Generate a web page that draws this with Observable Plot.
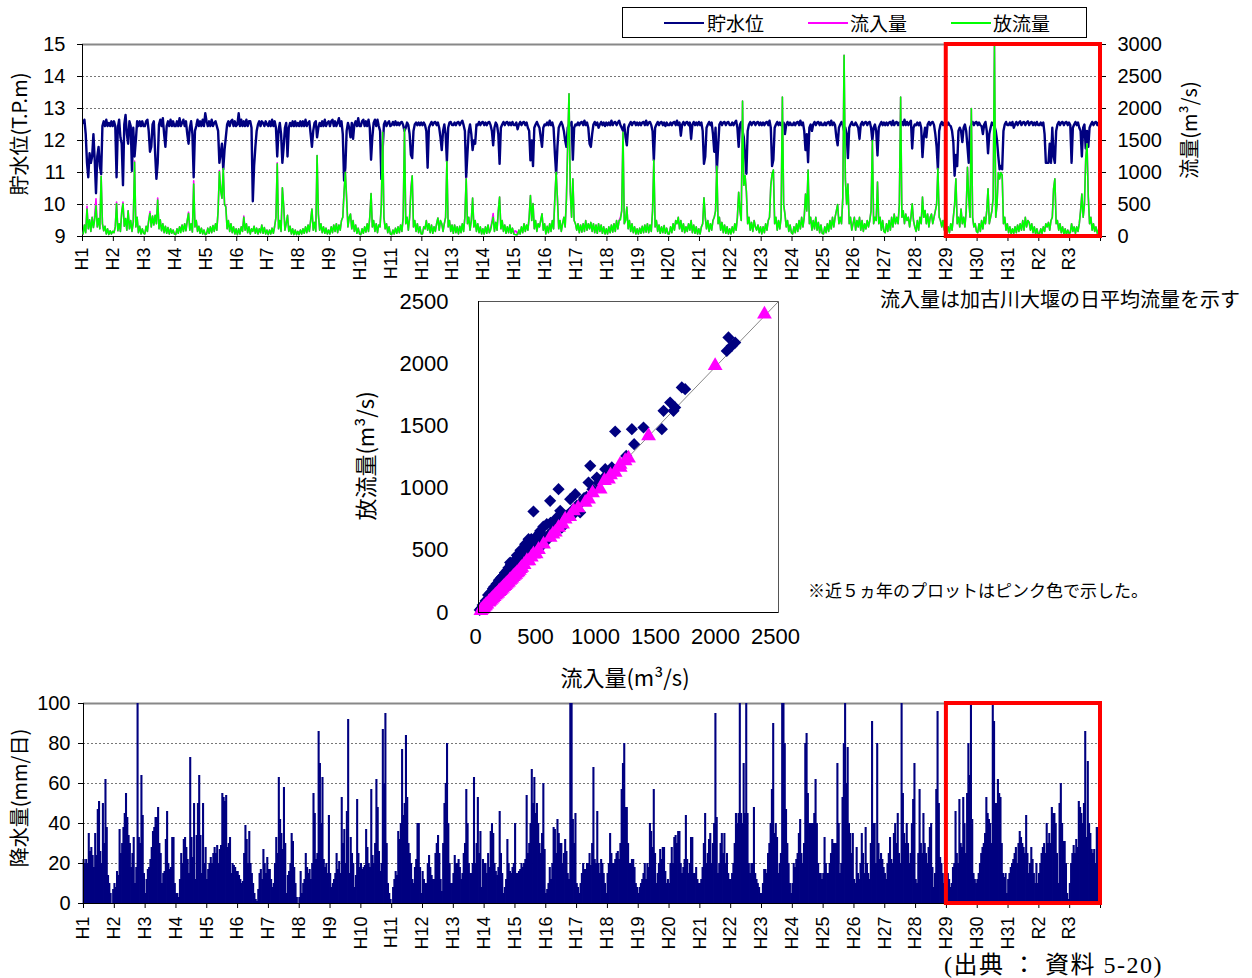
<!DOCTYPE html>
<html lang="ja">
<head>
<meta charset="utf-8">
<script src="https://cdn.jsdelivr.net/npm/d3@7"></script>
<script src="https://cdn.jsdelivr.net/npm/@observablehq/plot@0.6"></script>
<style>
  body { margin: 0; background: #fff; }
  #page { position: relative; width: 1252px; height: 978px; overflow: hidden; background: #fff;
          font-family: "Liberation Sans", "Noto Sans CJK JP", sans-serif; color: #000; }
  .abs { position: absolute; }
  .txt { position: absolute; white-space: nowrap; font-family: "Noto Sans CJK JP", "Liberation Sans", sans-serif; }
  .rot { transform: translate(-50%, -50%) rotate(-90deg); }
  .legend { position: absolute; left: 622px; top: 7px; width: 465px; height: 31px; border: 1px solid #000; box-sizing: border-box;
            font-family: "Noto Sans CJK JP", sans-serif; font-size: 19px; }
  .legend .item { position: absolute; top: 2px; line-height: 26px; }
  .legend .swatch { position: absolute; top: 14px; width: 40px; height: 2px; }
</style>
</head>
<body>
<div id="page">
  <div id="levelChart" class="abs" style="left:0;top:0"></div>
  <div id="flowChart" class="abs" style="left:0;top:0"></div>
  <div id="scatterChart" class="abs" style="left:340px;top:280px"></div>
  <div id="rainChart" class="abs" style="left:0;top:690px"></div>

  <div class="legend">
    <span class="swatch" style="left:41px;background:#000080"></span><span class="item" style="left:84px">貯水位</span>
    <span class="swatch" style="left:185px;background:#FF00FF"></span><span class="item" style="left:227px">流入量</span>
    <span class="swatch" style="left:328px;background:#00FF00"></span><span class="item" style="left:370px">放流量</span>
  </div>

  <div class="txt rot" style="left:18px;top:134px;font-size:20px">貯水位(T.P.m)</div>
  <div class="txt rot" style="left:1188px;top:130px;font-size:20px">流量(m³/s)</div>
  <div class="txt" style="left:880px;top:286px;font-size:20px;line-height:26px">流入量は加古川大堰の日平均流量を示す</div>
  <div class="txt rot" style="left:364px;top:456px;font-size:22px">放流量(m³/s)</div>
  <div class="txt" style="left:625px;top:676px;font-size:22px;transform:translate(-50%,-50%)">流入量(m³/s)</div>
  <div class="txt" style="left:808px;top:579px;font-size:17px;line-height:22px">※近５ヵ年のプロットはピンク色で示した。</div>
  <div class="txt rot" style="left:18px;top:798px;font-size:20px">降水量(mm/日)</div>
  <div class="txt" style="left:944px;top:950px;font-size:24px;line-height:30px;letter-spacing:1.5px;font-family:'Liberation Serif','DejaVu Serif','Noto Sans CJK JP',serif">(出典 ： 資料 5-20)</div>
</div>

<script>
// Year labels (Heisei 1 … Reiwa 3); each year holds 24 half-month values.
const yearLabels = ["H1","H2","H3","H4","H5","H6","H7","H8","H9","H10","H11","H12","H13","H14","H15","H16",
  "H17","H18","H19","H20","H21","H22","H23","H24","H25","H26","H27","H28","H29","H30","H31","R2","R3"];
const highlightRange = ["H29", "R3"];

// Reservoir water level (T.P.m)
const waterLevel = [
  [12.55,12.65,12.2,11.3,10.85,11.6,11.3,11.5,12.2,11.4,10.35,11.5,11.8,11.2,10.95,12.45,12.6,12.45,12.65,12.45,12.55,12.45,12.6,12.45],
  [12.6,12.45,10.85,12.4,12.65,12.1,11.9,10.6,12.5,12.8,12.2,11.9,12.6,12.45,11.05,12.4,11.5,12.0,12.6,12.45,12.6,12.45,12.6,12.45],
  [12.45,12.6,12.65,12.3,11.65,11.8,12.5,12.6,11.6,10.8,11.3,12.5,12.65,12.45,12.7,12.2,11.8,12.45,12.6,12.45,12.65,12.45,12.6,12.45],
  [12.45,12.6,12.45,12.7,12.45,12.55,12.65,12.45,12.6,12.2,11.9,12.4,12.6,12.2,10.85,12.3,12.45,12.65,12.45,12.6,12.45,12.65,12.45,12.85],
  [12.6,12.45,12.6,12.45,12.65,12.45,12.55,12.6,12.45,12.3,11.3,11.6,11.9,11.1,11.7,12.1,12.5,12.6,12.45,12.6,12.65,12.45,12.6,12.45],
  [12.5,12.85,12.45,12.65,12.45,12.6,12.45,12.65,12.45,12.6,12.6,12.4,10.1,11.2,11.8,12.3,12.5,12.6,12.45,12.6,12.55,12.45,12.6,12.5],
  [12.45,12.6,12.45,12.65,12.45,12.6,12.4,11.5,12.3,12.55,12.2,11.3,11.8,12.4,12.55,11.5,12.4,12.55,12.45,12.6,12.45,12.6,12.45,12.55],
  [12.45,12.6,12.45,12.6,12.45,12.65,12.45,12.55,12.6,12.2,11.8,12.3,12.55,12.6,12.1,12.4,12.55,12.45,12.6,12.45,12.65,12.45,12.55,12.6],
  [12.45,12.6,12.65,12.45,12.6,12.45,12.55,12.7,12.45,12.6,12.2,10.75,11.15,12.3,12.55,12.4,12.1,12.55,12.05,12.5,12.6,12.45,12.7,12.45],
  [12.45,12.6,12.65,12.45,12.6,12.45,12.65,12.4,11.4,12.1,12.55,12.65,12.45,12.65,12.45,12.3,10.8,11.7,12.5,12.6,12.45,12.55,12.6,12.45],
  [12.48,12.58,12.48,12.6,12.48,12.56,12.48,12.56,12.58,12.48,12.3,12.4,12.56,12.48,12.2,11.55,11.45,12.3,12.5,12.56,12.48,12.56,12.48,12.56],
  [12.48,12.56,12.48,12.3,11.15,12.4,12.5,12.58,12.48,12.56,12.58,12.48,12.56,12.4,12.1,11.7,12.3,12.5,12.2,11.35,12.4,12.56,12.58,12.48],
  [12.48,12.56,12.48,12.56,12.58,12.48,12.56,12.62,12.48,12.3,10.85,11.6,12.3,12.5,12.2,11.7,12.0,11.9,12.5,12.48,12.58,12.48,12.56,12.58],
  [12.48,12.56,12.48,12.56,12.58,12.48,12.3,11.85,12.4,12.56,12.48,12.2,11.27,12.4,12.5,12.58,12.48,12.56,12.58,12.48,12.56,12.48,12.58,12.48],
  [12.48,12.56,12.35,12.5,12.58,12.48,12.56,12.58,12.48,12.56,12.4,12.3,11.38,12.0,11.2,12.4,12.5,12.58,12.48,12.4,12.1,11.8,12.4,12.5],
  [12.48,12.56,12.48,12.62,12.48,12.56,12.4,11.6,10.95,11.8,12.4,12.5,12.58,12.48,12.3,12.0,11.8,12.4,12.5,12.48,12.58,11.4,12.4,12.5],
  [12.48,12.56,12.48,12.56,12.58,12.48,12.62,12.48,12.56,12.4,11.9,11.8,12.2,12.5,12.58,12.48,12.56,12.4,12.5,12.58,12.48,12.56,12.45,12.56],
  [12.48,12.56,12.48,12.62,12.48,12.56,12.58,12.48,12.56,12.62,12.48,12.4,12.3,12.5,12.1,11.85,12.4,12.5,12.58,12.48,12.56,12.58,12.48,12.56],
  [12.48,12.56,12.48,12.56,12.58,12.48,12.62,12.48,12.56,12.58,12.48,12.3,11.38,12.4,12.5,12.58,12.48,12.56,12.58,12.48,12.56,12.45,12.56,12.48],
  [12.48,12.56,12.48,12.56,12.58,12.48,12.62,12.48,12.56,12.15,12.5,12.58,12.48,12.56,12.58,12.48,12.56,12.05,12.5,12.58,12.48,12.56,12.48,12.58],
  [12.48,12.56,12.3,11.27,11.5,12.4,12.5,12.58,12.48,12.56,12.2,11.65,12.4,11.04,11.8,12.5,12.58,12.48,12.56,12.58,12.48,12.56,12.58,12.48],
  [12.48,12.56,12.48,12.56,12.62,12.4,11.8,12.5,12.58,12.3,12.1,11.5,10.96,12.3,12.5,12.58,12.48,12.56,12.58,12.48,12.56,12.58,12.48,12.56],
  [12.48,12.56,12.48,12.56,12.58,12.48,12.62,12.4,11.2,11.4,12.4,12.5,12.58,12.48,12.56,12.48,12.45,12.56,12.2,12.5,12.58,12.48,12.56,12.48],
  [12.48,12.56,12.48,12.56,12.58,12.48,12.62,12.48,12.56,12.3,11.7,12.2,11.32,12.4,12.5,12.3,12.5,12.58,12.48,12.56,12.58,12.48,12.56,12.48],
  [12.48,12.56,12.48,12.56,12.58,12.48,12.62,12.48,12.56,12.48,12.1,11.85,12.4,12.5,12.58,12.48,12.3,12.4,12.2,11.45,12.4,12.5,12.58,12.48],
  [12.48,12.56,12.48,12.4,12.05,12.5,12.58,12.48,12.56,12.58,12.48,12.56,12.58,12.4,12.0,12.4,12.5,12.3,11.53,12.4,12.5,12.58,12.48,12.56],
  [12.48,12.56,12.48,12.56,12.58,12.48,12.62,12.48,12.56,12.58,12.48,12.56,12.48,12.58,12.48,12.65,12.48,12.58,12.48,12.56,12.62,11.75,12.4,12.5],
  [12.48,12.56,12.48,12.56,12.4,11.48,12.1,12.4,12.1,12.5,12.58,12.48,12.56,12.58,12.48,12.2,11.8,11.1,12.3,12.5,12.58,12.48,12.56,12.48],
  [12.48,12.56,12.48,12.45,12.3,11.95,10.9,11.55,11.2,12.3,12.4,12.3,11.95,12.4,12.5,12.3,11.8,11.3,12.4,12.5,12.58,12.48,12.56,12.58],
  [12.48,12.56,12.48,12.45,12.2,12.5,12.58,12.3,11.6,12.2,12.4,12.56,12.48,12.45,12.3,12.0,11.5,11.1,11.2,11.1,12.3,12.5,12.58,12.48],
  [12.48,12.56,12.48,12.58,12.4,12.5,12.58,12.48,12.56,12.6,12.48,12.56,12.58,12.48,12.56,12.6,12.48,12.56,12.58,12.48,12.56,12.48,12.58,12.48],
  [12.48,12.56,12.48,12.56,12.2,11.3,11.3,11.3,11.9,11.3,12.4,11.5,11.3,12.3,12.5,12.58,12.48,12.56,12.58,12.48,12.56,12.58,12.48,12.56],
  [12.48,11.3,12.4,12.5,12.58,12.48,12.56,12.4,12.3,11.5,12.4,12.5,11.75,12.3,11.8,12.4,12.5,12.58,12.48,12.56,12.58,12.48,12.56,12.58]
];

// Inflow (m³/s, daily mean at the Kakogawa weir)
const inflow = [
  [40,180,60,470,120,260,80,300,140,330,590,150,280,120,940,200,90,160,40,120,30,90,40,80],
  [60,150,540,90,200,80,380,540,160,280,100,400,120,250,80,230,1180,150,300,60,160,40,120,50],
  [40,160,80,250,390,150,320,180,330,200,600,120,260,90,200,60,160,50,140,40,120,50,100,40],
  [30,120,50,150,110,180,80,200,90,250,380,100,200,70,870,150,250,80,160,50,130,40,100,30],
  [40,130,50,150,60,170,80,200,100,400,1030,720,600,1060,500,480,120,250,80,200,60,150,40,120],
  [30,120,40,150,80,320,100,200,60,150,40,120,80,160,50,130,40,120,60,180,50,140,40,100],
  [30,100,40,130,50,160,300,1150,120,250,80,760,480,100,200,330,80,160,40,120,30,100,30,80],
  [30,100,40,120,50,150,60,180,80,250,430,100,220,80,1265,350,100,200,60,150,50,130,40,100],
  [40,150,60,180,80,200,60,180,100,250,300,700,1005,590,150,300,350,120,250,80,180,50,130,40],
  [30,120,50,150,70,200,80,300,670,150,250,80,200,60,180,150,500,1630,300,120,200,60,150,40],
  [30,100,40,130,50,150,60,180,80,300,1680,200,300,100,300,770,950,150,250,80,200,60,150,40],
  [40,150,120,250,100,200,60,180,50,150,80,200,290,100,250,200,80,200,300,1170,150,250,80,180],
  [50,180,60,150,40,160,60,200,80,300,910,200,300,100,250,600,150,250,80,200,60,150,40,120],
  [40,150,50,180,60,130,230,360,80,220,100,400,615,120,250,80,180,50,150,60,180,50,130,40],
  [90,80,30,100,40,150,60,200,80,180,100,300,640,250,515,120,250,80,200,150,250,355,100,200],
  [40,160,60,200,80,250,120,620,1005,590,120,250,80,200,300,150,590,1450,2230,700,300,900,250,200],
  [100,200,60,180,70,200,80,250,100,200,120,220,80,200,60,180,50,200,80,180,50,150,40,120],
  [40,150,60,180,70,200,80,250,120,250,300,400,1630,200,250,460,120,250,80,200,60,150,40,120],
  [40,130,50,160,60,180,70,200,60,180,80,400,1190,150,250,80,180,50,150,60,170,50,130,40],
  [40,150,60,200,100,250,200,300,120,250,80,200,60,150,80,200,100,250,60,180,50,150,40,120],
  [40,150,200,605,300,120,250,80,200,100,250,300,400,1095,200,300,100,220,60,180,50,150,40,120],
  [40,150,60,200,100,300,690,400,250,2115,800,950,700,200,300,100,220,80,250,150,100,180,60,150],
  [40,150,60,200,100,250,300,800,980,1040,200,300,100,250,120,300,2180,500,350,150,250,80,180,60],
  [40,150,60,200,80,250,120,300,150,300,665,400,1040,200,300,100,250,120,300,100,220,60,180,50],
  [40,150,60,200,80,250,120,300,150,300,400,500,200,300,200,600,2830,900,500,820,200,300,100,200],
  [300,100,250,150,300,100,250,80,200,120,250,150,250,400,1500,200,300,250,850,200,300,100,250,80],
  [60,200,80,250,100,300,150,350,200,300,200,500,2180,300,400,200,350,250,300,150,300,510,250,150],
  [80,250,100,300,200,615,300,405,200,350,150,300,350,200,300,400,500,1060,300,250,150,250,100,200],
  [40,150,60,200,100,300,500,900,200,300,150,430,200,300,150,400,1080,600,300,2000,300,150,200,80],
  [60,200,80,250,120,300,200,400,745,200,300,400,600,3000,300,500,1000,900,1000,960,200,300,100,200],
  [60,150,40,120,50,150,60,180,80,200,100,250,100,300,150,250,220,100,200,60,150,40,120,40],
  [40,120,50,150,80,200,150,220,100,250,300,745,900,200,250,100,200,60,150,40,120,30,100,50],
  [60,200,80,150,50,150,80,200,400,665,300,500,1210,1450,615,200,300,100,200,80,150,50,100,150]
];

// Outflow (m³/s)
const outflow = [
  [40,180,60,430,120,260,80,300,140,260,480,150,280,120,940,200,90,160,40,120,30,90,40,80],
  [60,150,510,90,200,80,380,510,160,280,100,400,120,250,80,230,1160,150,300,60,160,40,120,50],
  [40,160,80,250,360,150,320,180,330,200,570,120,260,90,200,60,160,50,140,40,120,50,100,40],
  [30,120,50,150,60,180,80,200,90,250,360,100,200,70,820,150,250,80,160,50,130,40,100,30],
  [40,130,50,150,60,170,80,200,100,400,1010,720,600,1060,500,460,120,250,80,200,60,150,40,120],
  [30,120,40,150,80,300,100,200,60,150,40,120,80,160,50,130,40,120,60,180,50,140,40,100],
  [30,100,40,130,50,160,300,1135,120,250,80,760,480,100,200,330,80,160,40,120,30,100,30,80],
  [30,100,40,120,50,150,60,180,80,250,430,100,220,80,1265,350,100,200,60,150,50,130,40,100],
  [40,150,60,180,80,200,60,180,100,250,300,700,1005,590,150,300,350,120,250,80,180,50,130,40],
  [30,120,50,150,70,200,80,300,670,150,250,80,200,60,180,150,500,1630,300,120,200,60,150,40],
  [30,100,40,130,50,150,60,180,80,300,1680,200,300,100,300,700,950,150,250,80,200,60,150,40],
  [40,150,120,250,100,200,60,180,50,150,80,200,290,100,250,200,80,200,300,1170,150,250,80,180],
  [50,180,60,150,40,160,60,200,80,300,900,200,300,100,250,600,150,250,80,200,60,150,40,120],
  [40,150,50,180,60,100,200,300,80,220,100,400,615,120,250,80,180,50,150,60,180,50,130,40],
  [30,25,30,100,40,150,60,200,80,180,100,300,640,250,515,120,250,80,200,150,250,355,100,200],
  [40,160,60,200,80,250,120,600,1005,590,120,250,80,200,300,150,590,1450,2230,700,300,900,250,200],
  [100,200,60,180,70,200,80,250,100,200,120,220,80,200,60,180,50,200,80,180,50,150,40,120],
  [40,150,60,180,70,200,80,250,120,250,260,400,1630,200,250,460,120,250,80,200,60,150,40,120],
  [40,130,50,160,60,180,70,200,60,180,80,400,1190,150,250,80,180,50,150,60,170,50,130,40],
  [40,150,60,200,100,250,200,300,120,250,80,200,60,150,80,200,100,250,60,180,50,150,40,120],
  [40,150,200,605,300,120,250,80,200,100,250,300,400,1095,200,300,100,220,60,180,50,150,40,120],
  [40,150,60,200,100,300,690,400,250,2115,800,950,700,200,300,100,220,80,250,150,100,180,60,150],
  [40,150,60,200,100,250,300,800,980,1040,200,300,100,250,120,300,2180,500,350,150,250,80,180,60],
  [40,150,60,200,80,250,120,300,150,300,665,400,1040,200,300,100,250,120,300,100,220,60,180,50],
  [40,150,60,200,80,250,120,300,150,300,400,500,200,300,200,600,2830,900,500,820,200,300,100,200],
  [300,100,250,150,300,100,250,80,200,120,250,150,250,400,1500,200,300,250,850,200,300,100,250,80],
  [60,200,80,250,100,300,150,350,200,300,200,500,2180,300,400,200,350,250,300,150,300,510,250,150],
  [80,250,100,300,200,615,300,405,200,350,150,300,350,200,300,400,500,1060,300,250,150,250,100,200],
  [40,150,60,200,100,300,500,900,200,300,150,430,200,300,150,400,1080,600,300,2000,300,150,200,80],
  [60,200,80,250,120,300,200,400,745,200,300,400,600,3000,300,500,1000,900,1000,960,200,300,100,200],
  [60,150,40,120,50,150,60,180,80,200,100,250,100,300,150,250,220,100,200,60,150,40,120,40],
  [40,120,50,150,80,200,150,220,100,250,300,745,900,200,250,100,200,60,150,40,120,30,100,50],
  [60,200,80,150,50,150,80,200,400,665,300,500,1210,1450,615,200,300,100,200,80,150,50,100,150]
];

// Rainfall (mm/day)
const rainfall = [
  [22,20,22,20,35,26,28,24,18,35,24,47,51,26,20,50,30,62,38,14,10,5,0,7],
  [10,8,16,14,37,25,30,38,45,55,43,34,30,18,25,33,10,18,100,33,30,64,44,15],
  [5,12,17,18,22,28,36,38,43,43,48,30,25,10,15,16,32,46,20,17,18,33,33,10],
  [5,5,3,12,25,20,32,33,28,22,15,73,33,23,50,12,34,50,64,34,15,50,20,28],
  [12,17,20,23,20,25,28,25,29,20,27,29,55,53,51,54,28,30,33,15,20,19,18,16],
  [16,14,12,10,11,25,39,32,20,36,20,15,10,5,2,1,7,15,17,12,27,20,15,23],
  [17,17,12,8,10,20,33,25,63,42,35,27,58,30,5,14,16,20,35,31,18,10,3,0],
  [3,16,5,10,12,25,18,15,17,12,20,55,45,22,25,86,70,40,63,22,18,20,15,44],
  [15,8,10,12,15,25,17,21,15,53,30,37,20,46,92,15,33,25,20,8,14,52,25,18],
  [20,17,18,19,37,28,20,18,57,24,20,30,62,48,26,16,20,87,60,95,30,10,5,2],
  [0,8,12,16,14,36,32,40,77,44,50,84,53,30,25,20,12,10,18,22,40,40,18,5],
  [16,12,10,10,20,24,18,14,12,12,25,30,34,25,12,6,30,50,60,80,40,20,10,10],
  [15,24,20,20,22,18,12,15,25,30,57,40,20,15,15,20,63,20,30,53,25,36,8,22],
  [20,20,15,25,18,36,40,35,20,16,14,18,46,25,15,5,8,12,32,20,16,15,18,20],
  [40,15,15,16,17,20,18,20,22,54,25,30,40,67,50,63,45,50,40,30,25,35,60,27],
  [5,7,10,18,12,20,38,37,25,42,35,30,30,20,25,32,26,15,12,100,100,42,30,45],
  [10,8,5,10,15,20,17,17,20,20,25,19,30,68,22,20,46,20,15,22,20,15,10,5],
  [15,20,35,25,20,20,22,25,26,22,30,57,70,80,48,48,30,20,20,22,22,18,10,8],
  [5,8,10,12,15,20,12,20,18,40,36,28,57,25,10,15,20,27,22,28,28,16,10,12],
  [10,20,28,20,33,34,30,36,36,20,15,18,22,44,22,15,20,33,33,15,15,18,12,10],
  [10,12,18,30,45,20,25,32,35,20,30,40,95,43,15,20,30,35,25,35,20,25,15,12],
  [12,15,20,30,45,40,45,100,45,40,70,45,100,45,20,15,20,20,48,15,12,10,8,5],
  [5,10,17,17,15,25,30,40,57,90,35,40,33,15,20,25,100,100,80,47,30,20,10,5],
  [10,20,18,22,25,35,42,25,20,30,80,85,55,40,40,40,40,45,62,40,20,15,15,12],
  [15,33,20,15,15,20,25,32,30,30,30,70,40,15,20,53,80,100,60,78,40,35,25,35],
  [12,10,28,15,12,20,35,25,15,38,20,15,12,30,91,40,40,20,80,30,22,25,22,18],
  [15,12,20,25,33,22,20,35,40,30,45,25,20,100,55,35,30,40,30,20,25,40,52,70],
  [12,10,25,57,30,25,45,30,25,20,28,38,40,18,8,15,57,96,50,23,20,15,10,8],
  [10,15,12,8,10,18,20,46,25,20,52,30,28,53,40,25,55,80,64,99,42,15,12,10],
  [12,15,20,25,28,30,35,53,45,42,40,30,100,91,50,50,62,55,53,30,15,13,15,5],
  [12,15,18,20,22,25,28,20,30,36,33,30,28,25,44,25,15,20,28,22,15,10,20,10],
  [15,20,25,28,30,25,40,30,35,30,48,45,45,40,25,10,50,60,40,31,31,20,5,2],
  [10,20,25,29,25,32,28,51,48,45,40,50,86,33,71,40,35,27,25,27,20,38,38,16]
];

// Inflow vs outflow (m³/s): H1–H28 and the last five years (H29–R3)
const scatterPast = [
  [2083,2211],[2139,2170],[2069,2103],[2111,2144],[1694,1809],[1722,1795],[1597,1688],[1639,1648],[1625,1621],
  [1542,1621],[1528,1474],[1375,1487],[1278,1474],[1139,1455],[1297,1353],[1231,1259],[1111,1166],[1056,1152],
  [931,1179],[986,1085],[917,1045],[667,991],[597,898],[458,812],[681,817],[764,911],[847,804],[806,951],[514,656],
  [569,710],[417,589],[389,549],[264,402],[625,643],[694,683],[792,790],[1000,1040],[1050,1090],[950,990],[900,930],
  [850,880],[880,920],[820,860],[780,820],[740,780],[700,740],[660,700],[620,660],[580,620],[540,580],[500,540],
  [480,520],[460,500],[440,480],[420,460],[400,440],[380,420],[360,400],[340,380],[320,360],[300,340],[280,320],
  [260,300],[240,280],[220,260],[200,240],[180,220],[160,200],[140,175],[120,150],[100,125],[80,100],[60,80],[40,55],
  [20,30],[310,400],[290,370],[270,340],[250,330],[230,300],[210,270],[190,250],[170,225],[150,200],[130,170],
  [110,145],[90,120],[70,90],[50,65],[30,40],[350,390],[330,350],[200,210],[250,260],[300,310],[150,155],[100,105],
  [400,410],[450,460],[500,510],[550,560],[600,610],[10,20],[35,60],[60,95],[180,245],[230,285],[280,350],
  [100,160],[150,230],[200,290],[250,360],[300,420],[350,470],[400,520],[430,570],[470,600],[320,460],[350,500],
  [120,190],[170,260],[220,320],[270,385],[380,500],[440,590],[510,640],[540,690],[600,720],[650,760],
  [80,140],[130,205],[190,280],[240,340],[290,400],[330,440],[370,480],[410,540],[460,560],[520,600]
];
const scatterRecent = [
  [2383,2398],[1972,1983],[1417,1420],[1222,1219],[1181,1166],[1139,1125],[1083,1072],[1014,991],[917,911],[889,884],
  [792,817],[722,750],[667,683],[597,603],[542,549],[458,469],[403,415],[380,385],[360,362],[340,338],[320,318],
  [300,298],[280,275],[260,258],[240,236],[220,215],[200,196],[180,176],[160,155],[140,138],[120,116],[100,96],
  [85,82],[70,66],[55,50],[40,36],[30,25],[20,15],[350,352],[330,325],[310,305],[290,288],[270,265],[250,244],
  [230,226],[210,207],[190,186],[170,168],[150,146],[130,126],[110,106],[90,88],[60,58],[45,42],[500,505],[480,470],
  [440,445],[420,415],[620,630],[640,645],[700,710],[760,770],[830,840],[950,960],[1050,1060],[1100,1105],
  [1180,1190],[1250,1240]
];
const parityLine = [0, 2500];

const PER_YEAR = 24;
const NAVY = "#000080", MAGENTA = "#FF00FF", GREEN = "#00FF00", RED = "#FF0000";
const NUM_FONT = '"Liberation Sans", "Noto Sans CJK JP", sans-serif';
const plain = d => `${d}`;

// Flatten year rows into half-month records on a continuous year axis
function toSeries(rows) {
  return rows.flatMap((row, i) => row.map((v, j) => ({
    t: i + (j + 0.5) / PER_YEAR, t0: i + j / PER_YEAR, t1: i + (j + 1) / PER_YEAR, v
  })));
}
const levelSeries = toSeries(waterLevel);
const inflowSeries = toSeries(inflow);
const outflowSeries = toSeries(outflow);
const rainSeries = toSeries(rainfall);
const highlight = [{from: yearLabels.indexOf(highlightRange[0]), to: yearLabels.indexOf(highlightRange[1]) + 1}];
const yearTicks = d3.range(0, yearLabels.length + 1);
const yearFormat = i => yearLabels[i] ?? "";

const baseStyle = {fontFamily: NUM_FONT, background: "transparent", overflow: "visible"};
const timeFrame = {width: 1252, marginLeft: 82, marginRight: 152};

function yearAxis(pad) {
  return Plot.axisX(yearTicks, {tickFormat: yearFormat, tickRotate: -90, tickSize: 5, tickPadding: pad, fontSize: 18, label: null});
}

// Reservoir level (left axis)
document.getElementById("levelChart").append(Plot.plot({
  ...timeFrame, height: 290, marginTop: 44, marginBottom: 54,
  style: baseStyle,
  x: {domain: [0, yearLabels.length], axis: null},
  y: {domain: [9, 15], axis: null},
  marks: [
    Plot.ruleY(d3.range(10, 15), {stroke: "#777", strokeDasharray: "2,2"}),
    Plot.ruleY([15], {stroke: "#888", strokeWidth: 2}),
    Plot.line(levelSeries, {x: "t", y: "v", stroke: NAVY, strokeWidth: 2.4}),
    Plot.ruleY([9], {stroke: "#000"}),
    Plot.ruleX([0], {stroke: "#000"}),
    Plot.axisY(d3.range(9, 16), {tickSize: 5, tickPadding: 12, fontSize: 20, label: null, tickFormat: plain}),
    yearAxis(6)
  ]
}));

// Inflow / outflow (right axis), drawn over the level line
document.getElementById("flowChart").append(Plot.plot({
  ...timeFrame, height: 290, marginTop: 44, marginBottom: 54,
  style: baseStyle,
  x: {domain: [0, yearLabels.length], axis: null},
  y: {domain: [0, 3000], axis: null},
  marks: [
    Plot.line(inflowSeries, {x: "t", y: "v", stroke: MAGENTA, strokeWidth: 1.6}),
    Plot.line(outflowSeries, {x: "t", y: "v", stroke: GREEN, strokeWidth: 1.6}),
    Plot.axisY(d3.range(0, 3001, 500), {anchor: "right", tickSize: 5, tickPadding: 12, fontSize: 20, label: null, tickFormat: plain}),
    Plot.rect(highlight, {x1: "from", x2: "to", y1: 0, y2: 3000, fill: "none", stroke: RED, strokeWidth: 4})
  ]
}));

// Inflow vs outflow scatter
document.getElementById("scatterChart").append(Plot.plot({
  width: 470, height: 420, marginLeft: 138, marginRight: 32, marginTop: 21, marginBottom: 88,
  style: baseStyle,
  x: {domain: [0, 2500], axis: null},
  y: {domain: [0, 2500], axis: null},
  marks: [
    Plot.frame({stroke: "#555"}),
    Plot.line(parityLine, {x: d => d, y: d => d, stroke: "#888", strokeWidth: 1}),
    Plot.dot(scatterPast, {x: d => d[0], y: d => d[1], symbol: "diamond2", r: 5.5, fill: NAVY, stroke: "none"}),
    Plot.dot(scatterRecent, {x: d => d[0], y: d => d[1], symbol: "triangle", r: 5.5, fill: MAGENTA, stroke: "none"}),
    Plot.ruleX([0], {stroke: "#000"}),
    Plot.ruleY([0], {stroke: "#000"}),
    Plot.axisX(d3.range(0, 2501, 500), {tickSize: 0, tickPadding: 16, fontSize: 22, label: null, dx: -3, tickFormat: plain}),
    Plot.axisY(d3.range(0, 2501, 500), {tickSize: 0, tickPadding: 30, fontSize: 22, label: null, tickFormat: plain})
  ]
}));

// Daily rainfall
document.getElementById("rainChart").append(Plot.plot({
  ...timeFrame, marginLeft: 83, height: 288, marginTop: 13, marginBottom: 75,
  style: baseStyle,
  x: {domain: [0, yearLabels.length], axis: null},
  y: {domain: [0, 100], axis: null},
  marks: [
    Plot.ruleY(d3.range(20, 100, 20), {stroke: "#777", strokeDasharray: "2,2"}),
    Plot.ruleY([100], {stroke: "#888", strokeWidth: 2}),
    Plot.rectY(rainSeries, {x1: "t0", x2: "t1", y: "v", fill: NAVY, insetLeft: -0.4, insetRight: -0.4}),
    Plot.ruleY([0], {stroke: "#000"}),
    Plot.ruleX([0], {stroke: "#000"}),
    Plot.axisY(d3.range(0, 101, 20), {tickSize: 5, tickPadding: 8, fontSize: 20, label: null, tickFormat: plain}),
    yearAxis(8),
    Plot.rect(highlight, {x1: "from", x2: "to", y1: 0, y2: 100, fill: "none", stroke: RED, strokeWidth: 4})
  ]
}));
</script>
</body>
</html>
